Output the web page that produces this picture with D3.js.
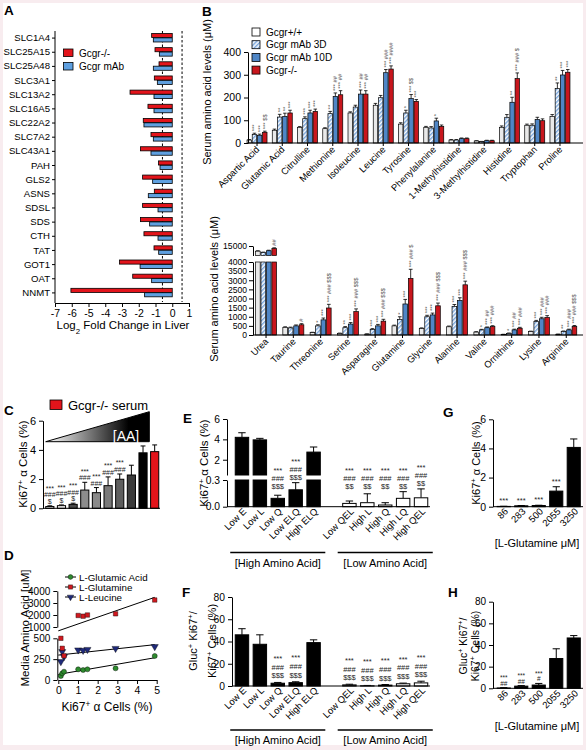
<!DOCTYPE html>
<html><head><meta charset="utf-8">
<script src="https://cdn.jsdelivr.net/npm/d3@7/dist/d3.min.js"></script>
<style>
html,body{margin:0;padding:0;background:#fff;}
svg{display:block;}
text{font-family:"Liberation Sans",Arial,Helvetica,sans-serif;}
</style></head><body>
<svg id="fig" width="586" height="750" viewBox="0 0 586 750"></svg>
<script>
// ================= DATA =================
// Panel A
const genesA = ["SLC1A4","SLC25A15","SLC25A48","SLC3A1","SLC13A2","SLC16A5","SLC22A2","SLC7A2","SLC43A1","PAH","GLS2","ASNS","SDSL","SDS","CTH","TAT","GOT1","OAT","NNMT"];
const koA  = [-1.23,-1.03,-0.79,-1.07,-2.52,-1.45,-1.73,-1.27,-1.90,-0.82,-1.77,-1.07,-1.77,-1.90,-1.69,-1.09,-3.15,-2.36,-6.05];
const mabA = [-1.13,-0.77,-1.13,-0.89,-1.09,-1.09,-1.69,-1.13,-1.27,-0.73,-1.17,-1.43,-0.85,-1.35,-0.85,-0.81,-1.92,-1.23,-1.65];
const ticksA = [-7,-6,-5,-4,-3,-2,-1,0,1];
const cutA = [-0.585, 0.585];
const legendA = ["Gcgr-/-","Gcgr mAb"];

// Panel B
const seriesB = ["Gcgr+/+","Gcgr mAb 3D","Gcgr mAb 10D","Gcgr-/-"];
const aaTop = ["Aspartic Acid","Glutamic Acid","Citrulline","Methionine","Isoleucine","Leucine","Tyrosine","Phenylalanine","1-Methylhistidine","3-Methylhistidine","Histidine","Tryptophan","Proline"];
const wtTop  = [13, 56, 69, 63,132,166, 83, 69,13, 9, 69, 78,117];
const m3Top  = [38,114,107,129,158,199,132, 66,13, 6,113, 78,239];
const m10Top = [34,117,132,205,215,309,195, 97,19,10,179,103,299];
const koTop  = [47,132,139,212,215,325,183, 73,19,10,283, 98,311];
const wtTopErr  = [2,5,3,4,5,8,6,4,2,1,6,5,8];
const m3TopErr  = [5,12,8,10,8,10,12,6,2,1,12,6,25];
const m10TopErr = [5,14,12,15,18,14,18,12,3,2,22,10,20];
const koTopErr  = [5,12,10,18,15,14,8,6,3,2,25,8,12];
const sig3Top  = ["***","**","***","**","","","*","","","","","","**"];
const sig10Top = ["***","**","***","*** ##","*** ##","*** ###","*** $$","*","","","**","",  "***"];
const sigKoTop = ["*** $$","***","***","*** ##","*** ##","*** ####","***","","","","*** ### $","","***"];
const ticksTop = [0,100,200,300,400];

const aaBot = ["Urea","Taurine","Threonine","Serine","Asparagine","Glutamine","Glycine","Alanine","Valine","Ornithine","Lysine","Arginine"];
const wtBot  = [9000,420, 130,  90,  50, 500, 350, 450,160, 30,190, 40];
const m3Bot  = [7500,390, 500, 400, 300, 850,1000,1570,280, 90,740,190];
const m10Bot = [9500,500, 830, 600, 500,1700,1100,1890,400,280,890,280];
const koBot  = [12000,560,1480,1280,760,3100,1600,2750,460,370,960,470];
const wtBotErr  = [500,30,20,15,10,40,40,40,20,10,20,10];
const m3BotErr  = [400,40,60,60,50,150,80,100,30,20,60,30];
const m10BotErr = [600,50,100,80,80,250,100,150,40,40,80,40];
const koBotErr  = [900,60,200,150,100,500,150,200,50,50,100,50];
const sig3Bot  = ["","","*","**","***","*","***","***","*","*","***","**"];
const sig10Bot = ["","","***","***","***","***","***","***","*** ##","*** ##","*** ###","*** ###"];
const sigKoBot = ["##","#","*** ### $$$","*** ### $$$","*** ### $$$","*** ### $","*** ### $$$","*** ### $$$","*** ###","*** ###","*** ###","*** ### $$$"];
const ticksBotLow = [0,500,1000,1500,2000,2500,3000,3500,4000];
const ticksBotHigh = [15000];

// Panel C
const condC = ["c1","c2","c3","c4","c5","c6","c7","c8","c9","serum"];
const ki67C    = [0.12,0.18,0.27,1.25,1.07,1.55,1.99,2.28,3.80,3.88];
const ki67ErrC = [0.05,0.05,0.08,0.53,0.35,0.60,0.36,0.67,0.47,0.46];
const sigC = [["***","###","$"],["***","###","$"],["***","###","$"],["***","###"],["***","###"],["***","###"],["***","###"],[],[],[]];
const ticksC = [0,2,4,6];

// Panel D
const ki67D      = [0.13,0.20,0.29,1.01,1.26,1.48,2.91,4.90];
const glutamicD  = [48, 80,100,128,120,128,140,288];
const glutamineD = [500,380,290,1960,1900,2000,2100,3250];
const leucineD   = [220,340,280,360,355,366,378,400];
const legendD = ["L-Glutamic Acid","L-Glutamine","L-Leucine"];
const ticksDLow = [0,250,500];
const ticksDHigh = [1000,2000,3000,4000];
const ticksDX = [0,1,2,3,4,5];

// Panels E / F
const condE = ["Low E","Low L","Low Q","Low ELQ","High ELQ","Low QEL","High L","High Q","High LQ","High QEL"];
const ki67E    = [4.20,3.95,0.094,0.19,2.75,0.037,0.045,0.019,0.094,0.10];
const ki67ErrE = [0.45,0.15,0.035,0.08,0.50,0.027,0.10,0.026,0.075,0.10];
const sigE = [[],[],["***","###","$$$"],["***","###","$$$"],[],["***","###","$$"],["***","###","$$"],["***","###","$$"],["***","###","$$"],["***","###","$$"]];
const glucF    = [46,37.5,2.5,3.0,39,1.0,0.2,0.8,2.0,2.8];
const glucErrF = [5.5,8.5,0.7,0.8,2.5,0.6,0.3,0.5,0.6,1.5];
const sigF = [[],[],["***","###","$$$"],["***","###","$$$"],[],["***","###","$$$"],["***","###","$$$"],["***","###","$$$"],["***","###","$$$"],["***","###","$$$"]];
const ticksELow = [0,0.3];
const ticksEHigh = [2,4,6];
const ticksF = [0,20,40,60,80];
const groupsE = ["[High Amino Acid]","[Low Amino Acid]"];

// Panels G / H
const glnLevels = ["86","283","500","2055","3250"];
const ki67G    = [0.02,0.06,0.08,1.07,4.07];
const ki67ErrG = [0.01,0.02,0.02,0.30,0.58];
const sigG = [["***"],["***"],["***"],["***"],[]];
const glucH    = [0.3,2.0,3.0,27.5,46.5];
const glucErrH = [0.3,0.5,1.5,9.0,2.2];
const sigH = [["***","##"],["***","##"],["***","#"],[],[]];
const ticksG = [0,2,4,6];
const ticksH = [0,20,40,60,80];

// ================= DRAWING =================
const svg = d3.select("#fig");
svg.append("rect").attr("width",586).attr("height",750).attr("fill","#f8ecef");
svg.append("rect").attr("x",3).attr("y",3).attr("width",580).attr("height",742).attr("fill","#fff");
const defs = svg.append("defs");
const pat = defs.append("pattern").attr("id","hatch").attr("patternUnits","userSpaceOnUse")
  .attr("width",3).attr("height",3).attr("patternTransform","rotate(45)");
pat.append("rect").attr("width",3).attr("height",3).attr("fill","#fff");
pat.append("rect").attr("width",1.5).attr("height",3).attr("fill","#79a6dc");
const grad = defs.append("linearGradient").attr("id","aaGrad").attr("x1",0).attr("x2",1).attr("y1",0).attr("y2",0);
grad.append("stop").attr("offset",0).attr("stop-color","#fff");
grad.append("stop").attr("offset",0.8).attr("stop-color","#000");
grad.append("stop").attr("offset",1).attr("stop-color","#000");

const K = "#000";
const fmtInt = d3.format("d");
function styleAxis(sel, fs){
  sel.selectAll("path.domain").attr("stroke",K).attr("stroke-width",1);
  sel.selectAll(".tick line").attr("stroke",K).attr("stroke-width",1);
  sel.selectAll(".tick text").attr("font-size",fs).attr("fill",K);
}
function hline(x1,x2,y){ svg.append("line").attr("x1",x1).attr("x2",x2).attr("y1",y).attr("y2",y).attr("stroke",K).attr("stroke-width",1); }
function vline(x,y1,y2){ svg.append("line").attr("x1",x).attr("x2",x).attr("y1",y1).attr("y2",y2).attr("stroke",K).attr("stroke-width",1); }
function label(t,x,y){ svg.append("text").attr("x",x).attr("y",y).attr("font-size",13.5).attr("font-weight","bold").text(t); }
function rich(sel, segs, fs){
  segs.forEach(s=>{
    const ts = sel.append("tspan").text(s.t);
    if(s.sup){ ts.attr("font-size",fs*0.68).attr("baseline-shift","super"); }
    if(s.sub){ ts.attr("font-size",fs*0.68).attr("baseline-shift","sub"); }
  });
}
function vTitle(x,y,segs,fs){
  const t = svg.append("text").attr("transform",`translate(${x},${y}) rotate(-90)`).attr("text-anchor","middle").attr("font-size",fs);
  rich(t,segs,fs);
}
function rotLabel(x,y,t,fs){
  svg.append("text").attr("transform",`translate(${x},${y}) rotate(-45)`).attr("text-anchor","end").attr("font-size",fs).text(t);
}
function errBar(cx,w,yv,ye,sw){
  svg.append("line").attr("x1",cx).attr("x2",cx).attr("y1",yv).attr("y2",ye).attr("stroke",K).attr("stroke-width",sw||1);
  svg.append("line").attr("x1",cx-w/2).attr("x2",cx+w/2).attr("y1",ye).attr("y2",ye).attr("stroke",K).attr("stroke-width",sw||1);
}
function sigStack(cx,yLast,lines,fs,gap){
  lines.forEach((t,i)=>{
    svg.append("text").attr("x",cx).attr("y",yLast-(lines.length-1-i)*gap).attr("text-anchor","middle")
      .attr("font-size",fs).attr("fill","#222").text(t);
  });
}
function sigVert(cx,y,str,fs){
  if(!str) return;
  svg.append("text").attr("transform",`translate(${cx+fs*0.33},${y}) rotate(-90)`).attr("font-size",fs)
    .attr("fill","#444").text(str);
}

// ---------- Panel A ----------
label("A",4,15);
const xA = d3.scaleLinear().domain([-7,1]).range([55,189]);
const yA = d3.scaleBand().domain(genesA).range([31,300]);
const bwA = yA.bandwidth();
cutA.forEach(c=>svg.append("line").attr("x1",xA(c)).attr("x2",xA(c)).attr("y1",31).attr("y2",302)
  .attr("stroke",K).attr("stroke-width",1).attr("stroke-dasharray","2.5,2"));
svg.append("g").selectAll("rect").data(genesA).join("rect")
  .attr("x",(d,i)=>xA(koA[i])).attr("width",(d,i)=>xA(0)-xA(koA[i]))
  .attr("y",d=>yA(d)+bwA/2-4.6).attr("height",4.1)
  .attr("fill","#e3141b").attr("stroke",K).attr("stroke-width",0.8);
svg.append("g").selectAll("rect").data(genesA).join("rect")
  .attr("x",(d,i)=>xA(mabA[i])).attr("width",(d,i)=>xA(0)-xA(mabA[i]))
  .attr("y",d=>yA(d)+bwA/2-0.2).attr("height",4.1)
  .attr("fill","#5fa0e0").attr("stroke",K).attr("stroke-width",0.8);
const gAy = svg.append("g").attr("transform","translate(55,0)").call(d3.axisLeft(yA).tickSize(3).tickSizeOuter(0).tickPadding(2));
styleAxis(gAy,9.6); gAy.select(".domain").remove(); vline(55,31,303);
const gAx = svg.append("g").attr("transform","translate(0,303)").call(d3.axisBottom(xA).tickValues(ticksA).tickSize(4).tickSizeOuter(0).tickFormat(d=>String(d)));
styleAxis(gAx,10.5);
{ const t = svg.append("text").attr("x",123).attr("y",329).attr("text-anchor","middle").attr("font-size",11.5);
  rich(t,[{t:"Log"},{t:"2",sub:true},{t:" Fold Change in Liver"}],11.5); }
[["#e3141b",0],["#5fa0e0",1]].forEach(([c,i])=>{
  svg.append("rect").attr("x",63.5).attr("y",49+i*13.5).attr("width",9.5).attr("height",7.5).attr("fill",c).attr("stroke",K).attr("stroke-width",0.8);
  svg.append("text").attr("x",79).attr("y",56.5+i*13.5).attr("font-size",10).text(legendA[i]);
});

// ---------- Panel B (top) ----------
label("B",202,16);
const fillsB = ["#e9e9e9","url(#hatch)","#4f86c6","#c8161d"];
const xBt = d3.scaleBand().domain(aaTop).range([244.4,572.6]);
const subBt = d3.scaleBand().domain(seriesB).range([-10,10]).paddingInner(0.15);
const yBt = d3.scaleLinear().domain([0,400]).range([143,52]);
const topVals=[wtTop,m3Top,m10Top,koTop], topErrs=[wtTopErr,m3TopErr,m10TopErr,koTopErr], topSigs=[null,sig3Top,sig10Top,sigKoTop];
seriesB.forEach((s,j)=>{
  aaTop.forEach((a,i)=>{
    const cx0 = xBt(a)+xBt.bandwidth()/2+subBt(s), w=subBt.bandwidth(), v=topVals[j][i], e=topErrs[j][i];
    errBar(cx0+w/2,w*0.8,yBt(v),yBt(v+e),0.8);
    svg.append("rect").attr("x",cx0).attr("y",yBt(v)).attr("width",w).attr("height",yBt(0)-yBt(v))
      .attr("fill",fillsB[j]).attr("stroke",K).attr("stroke-width",0.7);
    if(topSigs[j]) sigVert(cx0+w/2,yBt(v+e)-2,topSigs[j][i],5.8);
  });
});
const gBty = svg.append("g").attr("transform","translate(248,0)").call(d3.axisLeft(yBt).tickValues(ticksTop).tickSize(4).tickSizeOuter(0));
styleAxis(gBty,10.5);
hline(248,583,143);
aaTop.forEach(a=>{ const c=xBt(a)+xBt.bandwidth()/2; vline(c,143,146); rotLabel(c+3,150,a,9.4); });
vTitle(211,92,[{t:"Serum amino acid levels (μM)"}],11);
seriesB.forEach((s,j)=>{
  svg.append("rect").attr("x",252).attr("y",28+j*12.7).attr("width",8).attr("height",8).attr("fill",j===0?"#fff":fillsB[j]).attr("stroke",K).attr("stroke-width",0.8);
  svg.append("text").attr("x",266).attr("y",35.5+j*12.7).attr("font-size",10).text(s);
});

// ---------- Panel B (bottom, broken axis) ----------
const xBb = d3.scaleBand().domain(aaBot).range([252.4,579.9]);
const subBb = d3.scaleBand().domain(seriesB).range([-10.5,10.5]).paddingInner(0.15);
const yBl = d3.scaleLinear().domain([0,4000]).range([335,262]);
const yBu = d3.scaleLinear().domain([4000,15000]).range([255.5,246]);
const botVals=[wtBot,m3Bot,m10Bot,koBot], botErrs=[wtBotErr,m3BotErr,m10BotErr,koBotErr], botSigs=[null,sig3Bot,sig10Bot,sigKoBot];
const yBb = v => v<=4000 ? yBl(v) : yBu(v);
seriesB.forEach((s,j)=>{
  aaBot.forEach((a,i)=>{
    const cx0 = xBb(a)+xBb.bandwidth()/2+subBb(s), w=subBb.bandwidth(), v=botVals[j][i], e=botErrs[j][i];
    errBar(cx0+w/2,w*0.8,yBb(v),yBb(v+e),0.8);
    if(v<=4000){
      svg.append("rect").attr("x",cx0).attr("y",yBl(v)).attr("width",w).attr("height",yBl(0)-yBl(v))
        .attr("fill",fillsB[j]).attr("stroke",K).attr("stroke-width",0.7);
    } else {
      svg.append("rect").attr("x",cx0).attr("y",yBl(4000)).attr("width",w).attr("height",yBl(0)-yBl(4000))
        .attr("fill",fillsB[j]).attr("stroke",K).attr("stroke-width",0.7);
      svg.append("rect").attr("x",cx0).attr("y",yBu(v)).attr("width",w).attr("height",yBu(4000)-yBu(v))
        .attr("fill",fillsB[j]).attr("stroke",K).attr("stroke-width",0.7);
    }
    if(botSigs[j]) sigVert(cx0+w/2,yBb(v+e)-2,botSigs[j][i],5.8);
  });
});
const gBbl = svg.append("g").attr("transform","translate(253,0)").call(d3.axisLeft(yBl).tickValues(ticksBotLow).tickSize(4).tickSizeOuter(0).tickPadding(2).tickFormat(fmtInt));
styleAxis(gBbl,8.6);
const gBbu = svg.append("g").attr("transform","translate(253,0)").call(d3.axisLeft(yBu).tickValues(ticksBotHigh).tickSize(4).tickSizeOuter(0).tickPadding(2).tickFormat(fmtInt));
styleAxis(gBbu,8.6);
hline(253,583,335);
aaBot.forEach(a=>{ const c=xBb(a)+xBb.bandwidth()/2; vline(c,335,338); rotLabel(c+3,342,a,9.4); });
vTitle(218,289,[{t:"Serum amino acid levels (μM)"}],11);

// ---------- Panel C ----------
label("C",4,415);
svg.append("rect").attr("x",50).attr("y",400).attr("width",12).attr("height",9.5).attr("fill","#e3141b").attr("stroke",K).attr("stroke-width",0.8);
svg.append("text").attr("x",68).attr("y",409.5).attr("font-size",13).text("Gcgr-/- serum");
const xC = d3.scaleBand().domain(condC).range([44,160.5]).paddingInner(0.3).paddingOuter(0.15);
const yC = d3.scaleLinear().domain([0,6]).range([508.3,420.7]);
svg.append("path").attr("d",`M45.7,441.7 L149.3,411.7 L149.3,441.7 Z`).attr("fill","url(#aaGrad)").attr("stroke",K).attr("stroke-width",1);
svg.append("text").attr("x",126).attr("y",440.5).attr("text-anchor","middle").attr("font-size",14).attr("fill","#fff").text("[AA]");
const colC = ["#f4f4f4","#ffffff","#4a4a4a","#8c8c8c","#8a8a8a","#7a7a7a","#5e5e5e","#3a3a3a","#000000","#e3141b"];
condC.forEach((c,i)=>{
  const x=xC(c), w=xC.bandwidth(), cx=x+w/2, v=ki67C[i], e=ki67ErrC[i];
  errBar(cx,w*0.6,yC(v),yC(v+e),1);
  svg.append("rect").attr("x",x).attr("y",yC(v)).attr("width",w).attr("height",yC(0)-yC(v)).attr("fill",colC[i]).attr("stroke",K).attr("stroke-width",1);
  sigStack(cx,yC(v+e)-2,sigC[i],7,6.5);
});
const gCy = svg.append("g").attr("transform","translate(43,0)").call(d3.axisLeft(yC).tickValues(ticksC).tickSize(4).tickSizeOuter(0).tickFormat(fmtInt));
styleAxis(gCy,11);
hline(43,160,508.3);
vTitle(27,464,[{t:"Ki67"},{t:"+",sup:true},{t:" α Cells (%)"}],11.5);

// ---------- Panel D ----------
label("D",4,560);
const xD = d3.scaleLinear().domain([0,5]).range([58.3,156.7]);
const yDl = d3.scaleLinear().domain([0,500]).range([680,638.3]);
const yDu = d3.scaleLinear().domain([1000,4000]).range([627,591]);
function fit(xs,ys){ const mx=d3.mean(xs), my=d3.mean(ys); let num=0,den=0; xs.forEach((x,i)=>{num+=(x-mx)*(ys[i]-my);den+=(x-mx)*(x-mx);}); const b=num/den; return [my-b*mx,b]; }
const xMaxD = d3.max(ki67D);
[[glutamicD,yDl,"#2e8b2e","circle"],[leucineD,yDl,"#1f2a7a","tri"],[glutamineD,null,"#d0191f","square"]].forEach(([ys,sc,col,shape])=>{
  const [a,b]=fit(ki67D,ys);
  const scl = sc || yDu;
  svg.append("line").attr("x1",xD(0)).attr("x2",xD(xMaxD)).attr("y1",scl(a)).attr("y2",scl(a+b*xMaxD)).attr("stroke",K).attr("stroke-width",1);
  ki67D.forEach((x,i)=>{
    const v=ys[i], py = v<=500? yDl(v): yDu(v), px=xD(x);
    const sym = shape==="circle"?d3.symbolCircle:shape==="square"?d3.symbolSquare:d3.symbolTriangle;
    svg.append("path").attr("d",d3.symbol(sym, shape==="tri"?22:20)()).attr("transform",`translate(${px},${py})${shape==="tri"?" rotate(180)":""}`)
      .attr("fill",col).attr("stroke",K).attr("stroke-width",0.4);
  });
});
const gDl = svg.append("g").attr("transform","translate(57.3,0)").call(d3.axisLeft(yDl).tickValues(ticksDLow).tickSize(4).tickSizeOuter(0).tickFormat(fmtInt));
styleAxis(gDl,10);
const gDu = svg.append("g").attr("transform","translate(57.3,0)").call(d3.axisLeft(yDu).tickValues(ticksDHigh).tickSize(4).tickSizeOuter(0).tickFormat(fmtInt));
styleAxis(gDu,10);
const gDx = svg.append("g").attr("transform","translate(0,680)").call(d3.axisBottom(xD).tickValues(ticksDX).tickSize(4).tickSizeOuter(0).tickFormat(fmtInt));
styleAxis(gDx,10.5);
{ const t=svg.append("text").attr("x",107).attr("y",711).attr("text-anchor","middle").attr("font-size",12);
  rich(t,[{t:"Ki67"},{t:"+",sup:true},{t:" α Cells (%)"}],12); }
vTitle(29,628,[{t:"Media Amino Acid [uM]"}],11.5);
[["#2e8b2e",d3.symbolCircle,0],["#d0191f",d3.symbolSquare,0],["#1f2a7a",d3.symbolTriangle,180]].forEach(([c,sym,rot],i)=>{
  const y=577+i*10;
  hline(65,76,y);
  svg.append("path").attr("d",d3.symbol(sym,18)()).attr("transform",`translate(70.5,${y}) rotate(${rot})`).attr("fill",c).attr("stroke",K).attr("stroke-width",0.4);
  svg.append("text").attr("x",79).attr("y",y+3.5).attr("font-size",9.8).text(legendD[i]);
});

// ---------- Panels E / F ----------
label("E",183,423);
label("F",182,597);
const xE = d3.scaleBand().domain([...condE.slice(0,5),"gap",...condE.slice(5)]).range([233,430]).paddingInner(0.25).paddingOuter(0.125);
const yEl = d3.scaleLinear().domain([0,0.3]).range([506.7,480]);
const yEu = d3.scaleLinear().domain([0.5,6]).range([475,419]);
const yEv = v => v<=0.3? yEl(v) : yEu(v);
condE.forEach((c,i)=>{
  const x=xE(c), w=xE.bandwidth(), cx=x+w/2, v=ki67E[i], e=ki67ErrE[i];
  const fill = i<5? "#000":"#fff";
  errBar(cx,w*0.55,yEv(v),yEv(v+e),1);
  if(v<=0.3){
    svg.append("rect").attr("x",x).attr("y",yEl(v)).attr("width",w).attr("height",yEl(0)-yEl(v)).attr("fill",fill).attr("stroke",K).attr("stroke-width",1);
  } else {
    svg.append("rect").attr("x",x).attr("y",yEl(0.3)).attr("width",w).attr("height",yEl(0)-yEl(0.3)).attr("fill",fill).attr("stroke",K).attr("stroke-width",1);
    svg.append("rect").attr("x",x).attr("y",yEu(v)).attr("width",w).attr("height",yEu(0.5)-yEu(v)).attr("fill",fill).attr("stroke",K).attr("stroke-width",1);
  }
  sigStack(cx,Math.min(yEv(v+e)-3,489),sigE[i],7.5,8);
  rotLabel(cx+5,512,c,9.5);
});
const gEl = svg.append("g").attr("transform","translate(227,0)").call(d3.axisLeft(yEl).tickValues(ticksELow).tickSize(4).tickSizeOuter(0).tickFormat(d3.format(".1f")));
styleAxis(gEl,10.3);
const gEu = svg.append("g").attr("transform","translate(227,0)").call(d3.axisLeft(yEu).tickValues(ticksEHigh).tickSize(4).tickSizeOuter(0).tickFormat(fmtInt));
styleAxis(gEu,10.3);
hline(227,430,506.7);
vTitle(208,463,[{t:"Ki67"},{t:"+",sup:true},{t:" α Cells (%)"}],11.5);
const grpE = [[condE[0],condE[4]],[condE[5],condE[9]]];
function brackets(yLine,yText){
  grpE.forEach(([a,b],k)=>{
    const x1=xE(a)-5, x2=xE(b)+xE.bandwidth()+5;
    svg.append("line").attr("x1",x1).attr("x2",x2).attr("y1",yLine).attr("y2",yLine).attr("stroke",K).attr("stroke-width",1.4);
    svg.append("text").attr("x",(x1+x2)/2).attr("y",yText).attr("text-anchor","middle").attr("font-size",11).text(groupsE[k]);
  });
}
brackets(552.5,566.5);

const yF = d3.scaleLinear().domain([0,80]).range([686,597]);
condE.forEach((c,i)=>{
  const x=xE(c), w=xE.bandwidth(), cx=x+w/2, v=glucF[i], e=glucErrF[i];
  const fill = i<5? "#000":"#fff";
  errBar(cx,w*0.55,yF(v),yF(v+e),1);
  svg.append("rect").attr("x",x).attr("y",yF(v)).attr("width",w).attr("height",yF(0)-yF(v)).attr("fill",fill).attr("stroke",K).attr("stroke-width",1);
  sigStack(cx,yF(v+e)-4,sigF[i],7.5,8.7);
  rotLabel(cx+5,691,c,9.5);
});
const gFy = svg.append("g").attr("transform","translate(232,0)").call(d3.axisLeft(yF).tickValues(ticksF).tickSize(4).tickSizeOuter(0));
styleAxis(gFy,10.3);
hline(232,430,686);
vTitle(197,641,[{t:"Gluc"},{t:"+",sup:true},{t:" Ki67"},{t:"+",sup:true},{t:"/"}],11);
vTitle(215.5,641,[{t:"Ki67"},{t:"+",sup:true},{t:" Cells (%)"}],11);
brackets(730,744);

// ---------- Panels G / H ----------
label("G",443,417);
label("H",448,597);
const xG = d3.scaleBand().domain(glnLevels).range([495,582.5]).paddingInner(0.25).paddingOuter(0.125);
const yG = d3.scaleLinear().domain([0,6]).range([506.7,419.3]);
glnLevels.forEach((c,i)=>{
  const x=xG(c), w=xG.bandwidth(), cx=x+w/2, v=ki67G[i], e=ki67ErrG[i];
  errBar(cx,w*0.55,yG(v),yG(v+e),1);
  svg.append("rect").attr("x",x).attr("y",yG(v)).attr("width",w).attr("height",yG(0)-yG(v)).attr("fill","#000").attr("stroke",K).attr("stroke-width",1);
  sigStack(cx,Math.min(yG(v+e)-3,503),sigG[i],7.5,7);
  rotLabel(cx+5,512,c,9.5);
});
const gGy = svg.append("g").attr("transform","translate(493,0)").call(d3.axisLeft(yG).tickValues(ticksG).tickSize(4).tickSizeOuter(0).tickFormat(fmtInt));
styleAxis(gGy,10.5);
hline(493,583,506.7);
vTitle(479.5,463,[{t:"Ki67"},{t:"+",sup:true},{t:" α Cells (%)"}],11);
svg.append("text").attr("x",537).attr("y",547).attr("text-anchor","middle").attr("font-size",11).text("[L-Glutamine μM]");

const yH = d3.scaleLinear().domain([0,80]).range([688.3,601.7]);
glnLevels.forEach((c,i)=>{
  const x=xG(c), w=xG.bandwidth(), cx=x+w/2, v=glucH[i], e=glucErrH[i];
  errBar(cx,w*0.55,yH(v),yH(v+e),1);
  svg.append("rect").attr("x",x).attr("y",yH(v)).attr("width",w).attr("height",yH(0)-yH(v)).attr("fill","#000").attr("stroke",K).attr("stroke-width",1);
  sigStack(cx,Math.min(yH(v+e)-2,686),sigH[i],6.5,5.5);
  rotLabel(cx+5,694,c,9.5);
});
const gHy = svg.append("g").attr("transform","translate(493,0)").call(d3.axisLeft(yH).tickValues(ticksH).tickSize(4).tickSizeOuter(0).tickFormat(fmtInt));
styleAxis(gHy,10);
hline(493,583,688.3);
vTitle(467,646,[{t:"Gluc"},{t:"+",sup:true},{t:" Ki67"},{t:"+",sup:true},{t:"/"}],10.5);
vTitle(478.5,646,[{t:"Ki67"},{t:"+",sup:true},{t:" Cells (%)"}],10.5);
svg.append("text").attr("x",537).attr("y",729.5).attr("text-anchor","middle").attr("font-size",11).text("[L-Glutamine μM]");
</script>
</body></html>
